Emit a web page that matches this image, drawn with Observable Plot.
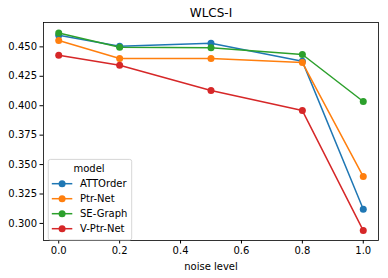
<!DOCTYPE html>
<html>
<head>
<meta charset="utf-8">
<script src="https://cdn.jsdelivr.net/npm/d3@7"></script>
<script src="https://cdn.jsdelivr.net/npm/@observablehq/plot@0.6"></script>
<style>
  html, body { margin: 0; padding: 0; background: #fff; }
  #chart svg { display: block; }
</style>
</head>
<body>
<div id="chart"></div>
<script>
const noiseLevels = [0.0, 0.2, 0.5, 0.8, 1.0];
const models = ["ATTOrder", "Ptr-Net", "SE-Graph", "V-Ptr-Net"];
const attOrder = [0.4599, 0.4505, 0.4530, 0.4377, 0.3120];
const ptrNet   = [0.4554, 0.4401, 0.4401, 0.4367, 0.3398];
const seGraph  = [0.4617, 0.4497, 0.4492, 0.4435, 0.4036];
const vPtrNet  = [0.4429, 0.4344, 0.4129, 0.3959, 0.2939];
const colors = ["#1f77b4", "#ff7f0e", "#2ca02c", "#d62728"];
const yTicks = [0.300, 0.325, 0.350, 0.375, 0.400, 0.425, 0.450];
const xTicks = [0.0, 0.2, 0.4, 0.6, 0.8, 1.0];
const title = "WLCS-I";
const xLabel = "noise level";
const legendTitle = "model";

const seriesValues = [attOrder, ptrNet, seGraph, vPtrNet];
const data = models.flatMap((m, i) => noiseLevels.map((x, j) => ({model: m, noise: x, value: seriesValues[i][j]})));

const W = 388, H = 278;
const mL = 43, mR = 10, mT = 22, mB = 38;

const chart = Plot.plot({
  width: W,
  height: H,
  marginLeft: mL,
  marginRight: mR,
  marginTop: mT,
  marginBottom: mB,
  style: {fontFamily: "DejaVu Sans", fontSize: "10px", color: "#000", background: "#fff", overflow: "visible"},
  x: {domain: [-0.05, 1.05]},
  y: {domain: [0.2855, 0.4707]},
  color: {domain: models, range: colors},
  marks: [
    Plot.line(data, {x: "noise", y: "value", stroke: "model", z: "model", strokeWidth: 1.5}),
    Plot.dot(data, {x: "noise", y: "value", fill: "model", r: 3.5, stroke: null}),
    Plot.frame({stroke: "#000", strokeWidth: 0.8}),
    Plot.axisX({ticks: xTicks, tickFormat: d3.format(".1f"), tickSize: 3.5, tickPadding: 2.5, label: null, fontSize: 10}),
    Plot.axisY({ticks: yTicks, tickFormat: d3.format(".3f"), tickSize: 3.5, tickPadding: 3, label: null, fontSize: 10}),
    Plot.text([xLabel], {frameAnchor: "bottom", dy: 26, text: d => d, fontSize: 10, lineAnchor: "middle"}),
    Plot.text([title], {frameAnchor: "top", dy: -9, text: d => d, fontSize: 12, lineAnchor: "middle"})
  ]
});

// Legend (matplotlib-style box inside axes, lower left)
const svg = d3.select(chart);
const lx = mL + 5.3, ly = H - mB - 80.6, lw = 83.4, lh = 80.6;
const g = svg.append("g").attr("font-family", "DejaVu Sans").attr("font-size", 10);
g.append("rect").attr("x", lx).attr("y", ly).attr("width", lw).attr("height", lh)
  .attr("rx", 2).attr("fill", "#fff").attr("fill-opacity", 0.8)
  .attr("stroke", "#ccc").attr("stroke-width", 0.8);
g.append("text").attr("x", lx + lw / 2 - 1).attr("y", ly + 9).attr("dy", "0.35em")
  .attr("text-anchor", "middle").attr("fill", "#000").text(legendTitle);
models.forEach((m, i) => {
  const cy = ly + 24.3 + i * 15;
  g.append("line").attr("x1", lx + 3.5).attr("x2", lx + 24).attr("y1", cy).attr("y2", cy)
    .attr("stroke", colors[i]).attr("stroke-width", 1.5);
  g.append("circle").attr("cx", lx + 13.8).attr("cy", cy).attr("r", 3.5).attr("fill", colors[i]);
  g.append("text").attr("x", lx + 31.7).attr("y", cy).attr("dy", "0.35em")
    .attr("text-anchor", "start").attr("fill", "#000").text(m);
});

document.getElementById("chart").appendChild(chart);
</script>
</body>
</html>
